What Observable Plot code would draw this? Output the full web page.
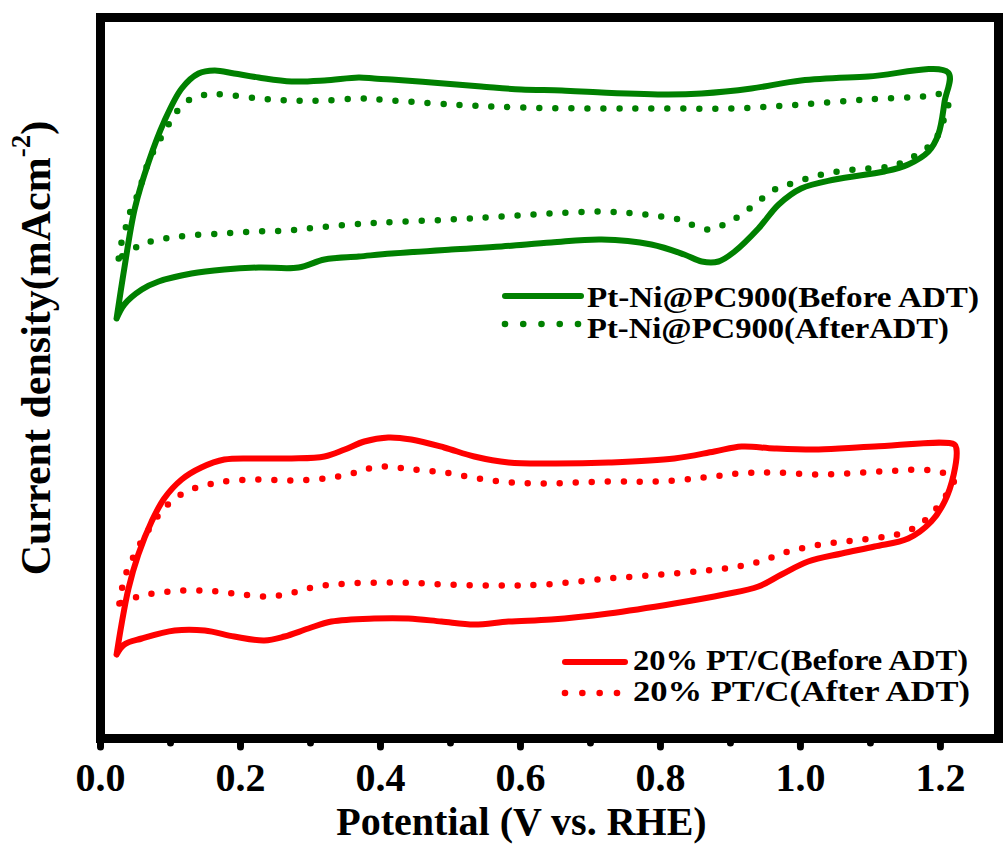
<!DOCTYPE html>
<html><head><meta charset="utf-8">
<script src="https://cdn.jsdelivr.net/npm/d3@7"></script>
<script src="https://cdn.jsdelivr.net/npm/@observablehq/plot@0.6"></script>
<style>
body{margin:0;background:#fff;}
#chart{position:relative;width:1003px;height:845px;}
</style></head><body><div id="chart"></div>
<script>
// Potential (V vs. RHE) and current density (arbitrary offset units)
const ptNiBeforeV = [0.023,0.034,0.049,0.069,0.091,0.116,0.140,0.163,0.191,0.226,0.273,0.320,0.369,0.391,0.416,0.473,0.544,0.601,0.659,0.716,0.811,0.859,0.930,1.001,1.097,1.211,
  1.206,1.197,1.183,1.154,1.120,1.049,1.001,0.969,0.940,0.906,0.883,0.859,0.834,0.787,0.716,0.644,0.573,0.501,0.416,0.369,0.320,0.283,0.226,0.177,0.130,0.083,0.059,0.034,0.023];
const ptNiBeforeJ = [4.20,4.70,5.30,5.77,6.17,6.50,6.65,6.68,6.65,6.61,6.57,6.58,6.61,6.60,6.59,6.56,6.52,6.49,6.48,6.46,6.44,6.45,6.50,6.58,6.62,6.66,
  6.37,6.04,5.87,5.74,5.67,5.59,5.50,5.34,5.10,4.87,4.77,4.77,4.84,4.94,4.99,4.96,4.92,4.89,4.85,4.82,4.79,4.71,4.71,4.69,4.65,4.57,4.49,4.34,4.20];

const ptNiAfterV = [0.026,0.030,0.037,0.044,0.054,0.061,0.070,0.094,0.109,0.130,0.154,0.177,0.226,0.273,0.320,0.373,0.397,0.501,0.601,0.716,0.811,0.906,1.001,1.097,1.177,1.201,1.211,
  1.204,1.191,1.173,1.149,1.126,1.077,1.030,0.987,0.963,0.940,0.916,0.891,0.869,0.844,0.826,0.801,0.763,0.716,0.644,0.573,0.501,0.406,0.359,0.311,0.266,0.220,0.173,0.126,0.101,0.077,0.056,0.026];
const ptNiAfterJ = [4.80,4.96,5.13,5.30,5.45,5.61,5.79,6.10,6.27,6.40,6.44,6.44,6.40,6.38,6.38,6.40,6.39,6.34,6.31,6.30,6.30,6.30,6.34,6.39,6.42,6.44,6.35,
  6.17,5.97,5.87,5.77,5.72,5.69,5.64,5.55,5.49,5.37,5.24,5.14,5.09,5.14,5.19,5.22,5.25,5.27,5.25,5.22,5.19,5.16,5.14,5.11,5.08,5.07,5.05,5.03,5.01,4.98,4.93,4.80];

const ptcBeforeV = [0.023,0.030,0.040,0.054,0.073,0.091,0.116,0.144,0.177,0.226,0.273,0.320,0.349,0.377,0.411,0.444,0.491,0.534,0.583,0.644,0.726,0.820,0.877,0.916,0.963,1.026,1.106,1.220,1.223,
  1.219,1.206,1.187,1.154,1.106,1.059,1.011,0.973,0.940,0.891,0.820,0.726,0.644,0.583,0.534,0.487,0.440,0.391,0.330,0.297,0.263,0.234,0.191,0.149,0.106,0.059,0.034,0.023];
const ptcBeforeJ = [0.84,1.14,1.50,1.84,2.17,2.40,2.59,2.71,2.79,2.80,2.80,2.82,2.89,2.97,3.01,2.99,2.91,2.82,2.76,2.75,2.76,2.80,2.87,2.92,2.90,2.89,2.92,2.94,2.89,
  2.64,2.37,2.17,2.00,1.92,1.85,1.77,1.64,1.52,1.44,1.35,1.25,1.19,1.17,1.14,1.17,1.20,1.20,1.17,1.10,1.02,0.98,1.02,1.08,1.08,1.00,0.94,0.84];

const ptcAfterV = [0.027,0.034,0.044,0.056,0.070,0.087,0.106,0.130,0.154,0.177,0.226,0.273,0.320,0.354,0.377,0.400,0.423,0.447,0.491,0.540,0.587,0.633,0.726,0.797,0.863,0.911,0.959,1.026,1.116,1.187,1.219,
  1.209,1.173,1.147,1.123,1.077,1.030,0.983,0.937,0.891,0.820,0.726,0.634,0.566,0.494,0.426,0.356,0.309,0.287,0.263,0.240,0.216,0.191,0.147,0.099,0.054,0.027];
const ptcAfterJ = [1.35,1.60,1.77,1.94,2.10,2.27,2.40,2.49,2.54,2.57,2.59,2.58,2.60,2.64,2.69,2.72,2.71,2.69,2.66,2.60,2.56,2.55,2.57,2.57,2.61,2.65,2.66,2.64,2.67,2.68,2.60,
  2.44,2.15,2.06,2.02,1.98,1.94,1.87,1.76,1.70,1.65,1.60,1.54,1.53,1.54,1.56,1.55,1.52,1.48,1.44,1.42,1.43,1.45,1.48,1.47,1.42,1.35];

const seriesNames = ["Pt-Ni@PC900(Before ADT)","Pt-Ni@PC900(AfterADT)","20% PT/C(Before ADT)","20% PT/C(After ADT)"];
const seriesColors = ["#008000","#008000","#ff0000","#ff0000"];
const xTicksMajor = [0.0,0.2,0.4,0.6,0.8,1.0,1.2];
const xTicksMinor = [0.1,0.3,0.5,0.7,0.9,1.1];
const xLabel = "Potential (V vs. RHE)";
const yLabelMain = "Current density(mAcm";
const yLabelSup = "-2";

const rows = (v, j) => v.map((x, i) => ({V: x, J: j[i]}));
const serif = "'Liberation Serif','Times New Roman',serif";

const solid = {x: "V", y: "J", strokeWidth: 6, curve: "catmull-rom", strokeLinejoin: "round", strokeLinecap: "round"};
const dotted = {x: "V", y: "J", strokeWidth: 6.5, curve: "catmull-rom", strokeDasharray: "0 16", strokeLinecap: "round"};

const plot = Plot.plot({
  width: 1003, height: 845,
  marginLeft: 100, marginRight: 5, marginTop: 17, marginBottom: 107,
  x: {domain: [0, 1.283]},
  y: {domain: [0, 7.21], axis: null},
  style: {fontFamily: serif, fontWeight: "bold", background: "white", color: "black"},
  marks: [
    Plot.line(rows(ptNiBeforeV, ptNiBeforeJ), {...solid, stroke: seriesColors[0]}),
    Plot.line(rows(ptNiAfterV, ptNiAfterJ), {...dotted, stroke: seriesColors[1]}),
    Plot.line(rows(ptcBeforeV, ptcBeforeJ), {...solid, stroke: seriesColors[2]}),
    Plot.line(rows(ptcAfterV, ptcAfterJ), {...dotted, stroke: seriesColors[3]}),
    Plot.frame({stroke: "black", strokeWidth: 9}),
    Plot.axisX({ticks: xTicksMajor, tickSize: 9, strokeWidth: 7, strokeLinecap: "round", tickPadding: 15,
      tickFormat: d3.format(".1f"), fontSize: 40, fontWeight: "bold", label: null}),
    Plot.axisX({ticks: xTicksMinor, tickSize: 5, strokeWidth: 7, strokeLinecap: "round", tickFormat: () => "", label: null}),
    Plot.text([xLabel], {frameAnchor: "bottom", dx: -28, dy: 96, lineAnchor: "bottom", fontSize: 40, fontWeight: "bold", fill: "black"})
  ]
});
document.getElementById("chart").appendChild(plot);

const svg = d3.select(plot);
// y-axis label with superscript
const yl = svg.append("text")
  .attr("transform", "translate(50,348) rotate(-90)")
  .attr("text-anchor", "middle").attr("font-size", 42).attr("font-weight", "bold")
  .attr("font-family", serif).attr("fill", "black");
yl.append("tspan").text(yLabelMain);
yl.append("tspan").attr("font-size", 27).attr("dy", -20).text(yLabelSup);
yl.append("tspan").attr("dy", 20).text(")");

// legends
function legendRow(g, kind, color, x0, x1, yLine, xText, yBase, label, fs, len, dots) {
  if (kind === "solid") {
    g.append("line").attr("x1", x0).attr("x2", x1).attr("y1", yLine).attr("y2", yLine)
      .attr("stroke", color).attr("stroke-width", 6).attr("stroke-linecap", "round");
  } else {
    const step = (x1 - x0) / (dots - 1);
    for (let i = 0; i < dots; i++) g.append("circle").attr("cx", x0 + i * step).attr("cy", yLine).attr("r", 3.3).attr("fill", color);
  }
  g.append("text").attr("x", xText).attr("y", yBase).attr("font-size", fs)
    .attr("text-anchor", "start").attr("textLength", len).attr("lengthAdjust", "spacingAndGlyphs")
    .attr("font-weight", "bold").attr("font-family", serif).attr("fill", "black")
    .text(label);
}
const lg = svg.append("g").attr("text-anchor", "start");
legendRow(lg, "solid", seriesColors[0], 505, 581, 296, 587, 307, seriesNames[0], 30, 392, 0);
legendRow(lg, "dotted", seriesColors[1], 505, 578, 324, 587, 338, seriesNames[1], 30, 362, 5);
legendRow(lg, "solid", seriesColors[2], 565, 625, 662, 633, 670, seriesNames[2], 30, 335, 0);
legendRow(lg, "dotted", seriesColors[3], 565, 617, 693, 633, 701, seriesNames[3], 30, 337, 4);
</script>
</body></html>
